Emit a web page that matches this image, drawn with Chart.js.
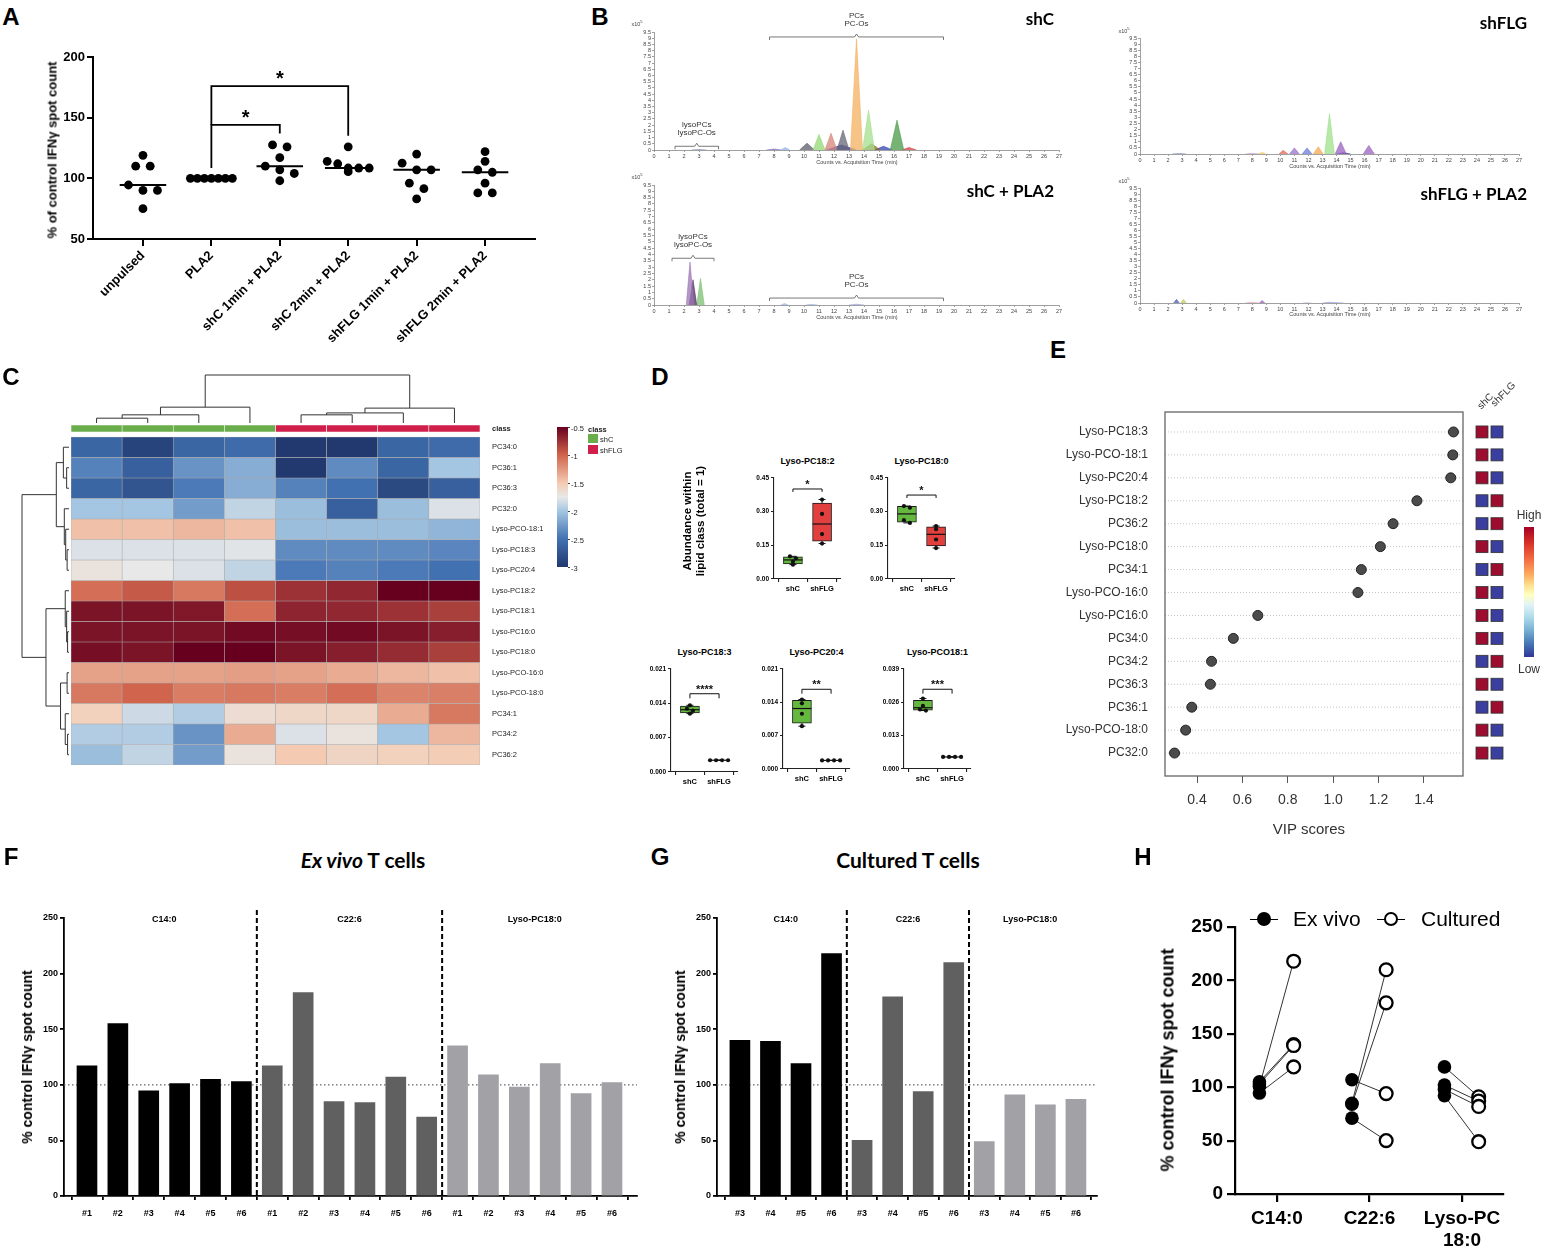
<!DOCTYPE html>
<html><head><meta charset="utf-8"><title>Figure</title>
<script src="https://cdn.jsdelivr.net/npm/chart.js@4.4.1/dist/chart.umd.min.js"></script>
<style>
html,body{margin:0;padding:0;background:#fff;}
#fig{position:relative;width:1547px;height:1252px;overflow:hidden;background:#fff;font-family:'Liberation Sans',Arial,sans-serif;color:#000;}
.t{position:absolute;white-space:nowrap;line-height:1;}
canvas{position:absolute;}
</style></head><body><div id="fig"></div>
<script>
// ======================= DATA =======================
// --- A: IFN-gamma spot count (% of control)
const A_groups = ['unpulsed', 'PLA2', 'shC 1min + PLA2', 'shC 2min + PLA2', 'shFLG 1min + PLA2', 'shFLG 2min + PLA2'];
const A_unpulsed = [119, 110, 110, 94.5, 90, 90, 75];
const A_PLA2 = [100, 100, 100, 100, 100, 100, 100];
const A_shC1 = [127.5, 126, 117, 110, 107, 104, 98];
const A_shC2 = [126, 114, 112, 108.5, 108.5, 108.5, 105.5];
const A_shFLG1 = [120, 112.5, 107, 107, 96, 91.5, 83];
const A_shFLG2 = [122, 114, 107, 105, 96, 88, 88];
const A_yTicks = [50, 100, 150, 200];
const A_sig = [
  {from: 1, to: 2, y: 144, yFrom: 108.5, yTo: 137, label: '*'},
  {from: 1, to: 3, y: 176, yFrom: 144, yTo: 135, label: '*'}
];

// --- B: chromatogram peaks [start, apex, end (min), height (x10^5 counts)]
const B_xTicks = [0,1,2,3,4,5,6,7,8,9,10,11,12,13,14,15,16,17,18,19,20,21,22,23,24,25,26,27];
const B_yTicks = [0,0.5,1,1.5,2,2.5,3,3.5,4,4.5,5,5.5,6,6.5,7,7.5,8,8.5,9,9.5];
const B_shC_peaks = [[13.1,13.5,13.9,8.95],[13.9,14.3,14.7,3.2],[15.75,16.2,16.65,2.4],[12.2,12.6,13.0,1.6],[11.4,11.8,12.2,1.35],[10.6,11.0,11.4,1.25],[9.7,10.2,10.7,0.55],[13.9,14.5,15.1,0.5],[11.5,12.5,13.5,0.4],[14.7,15.3,15.9,0.3],[16.5,17.0,17.5,0.2],[8.45,8.75,9.05,0.2],[7.5,8.0,8.5,0.08],[2.5,3.0,3.5,0.04]];
const B_shC_colors = ['#f4b060','#a4e08e','#4a9a46','#666675','#d68478','#92d874','#5c5c6c','#8a6a26','#2a38a8','#3442b4','#d04040','#90b4e4','#8070c0','#8090c0'];
const B_shFLG_peaks = [[13.15,13.5,13.85,3.3],[13.9,14.3,14.7,1.0],[15.9,16.3,16.7,0.7],[12.35,12.7,13.05,0.6],[11.55,11.9,12.25,0.5],[10.65,11.0,11.35,0.5],[9.9,10.2,10.55,0.3],[8.45,8.7,8.95,0.15],[14.0,14.5,15.0,0.1],[7.5,8.0,8.5,0.05],[2.3,2.8,3.3,0.04]];
const B_shFLG_colors = ['#9ee08a','#9a62c0','#9a62c0','#f4a850','#6a7ad8','#9a70c8','#e06a5a','#f0d060','#283090','#c0a0c0','#8090c0'];
const B_shCPLA2_peaks = [[2.15,2.4,2.65,3.4],[2.35,2.6,2.85,2.0],[2.85,3.1,3.35,2.1],[8.45,8.7,8.95,0.12],[10.1,10.5,10.9,0.05],[13.0,13.5,14.0,0.06]];
const B_shCPLA2_colors = ['#9c74b4','#4e2e60','#7cc070','#a0b8e8','#a0b8e8','#a0a0e0'];
const B_shFLGPLA2_peaks = [[2.4,2.6,2.8,0.3],[2.9,3.1,3.3,0.3],[7.5,8.0,8.5,0.05],[8.5,8.7,8.9,0.2],[11.6,11.9,12.2,0.03],[13.0,13.5,14.5,0.06]];
const B_shFLGPLA2_colors = ['#4a60b0','#c8c860','#e0a0b0','#9a62c0','#c0c0e0','#a0a0e0'];

// --- C: heatmap (log abundance) with clustering
const C_samples = ['shC-1','shC-2','shC-3','shC-4','shFLG-1','shFLG-2','shFLG-3','shFLG-4'];
const C_class = ['shC','shC','shC','shC','shFLG','shFLG','shFLG','shFLG'];
const C_lipids = ['PC34:0','PC36:1','PC36:3','PC32:0','Lyso-PCO-18:1','Lyso-PC18:3','Lyso-PC20:4','Lyso-PC18:2','Lyso-PC18:1','Lyso-PC16:0','Lyso-PC18:0','Lyso-PCO-16:0','Lyso-PCO-18:0','PC34:1','PC34:2','PC36:2'];
const C_values = [
  [-2.6,-2.9,-2.6,-2.55,-3.0,-3.0,-2.6,-2.55],
  [-2.4,-2.65,-2.3,-2.15,-3.0,-2.35,-2.6,-2.0],
  [-2.6,-2.75,-2.45,-2.15,-2.4,-2.5,-2.85,-2.65],
  [-2.0,-2.0,-2.25,-1.9,-2.05,-2.65,-2.05,-1.8],
  [-1.45,-1.45,-1.4,-1.45,-2.05,-2.05,-2.05,-2.1],
  [-1.8,-1.8,-1.8,-1.78,-2.35,-2.35,-2.35,-2.38],
  [-1.7,-1.75,-1.8,-1.9,-2.45,-2.4,-2.45,-2.5],
  [-1.05,-0.95,-1.1,-0.9,-0.75,-0.7,-0.5,-0.47],
  [-0.6,-0.6,-0.62,-1.05,-0.68,-0.7,-0.75,-0.82],
  [-0.6,-0.6,-0.6,-0.55,-0.57,-0.55,-0.6,-0.65],
  [-0.57,-0.6,-0.5,-0.47,-0.6,-0.65,-0.72,-0.82],
  [-1.3,-1.3,-1.3,-1.28,-1.3,-1.35,-1.4,-1.45],
  [-1.1,-1.0,-1.12,-1.1,-1.12,-1.05,-1.15,-1.13],
  [-1.55,-1.85,-1.95,-1.65,-1.6,-1.6,-1.35,-1.1],
  [-1.95,-1.95,-2.3,-1.35,-1.8,-1.7,-2.0,-1.4],
  [-2.05,-1.9,-2.25,-1.7,-1.5,-1.58,-1.55,-1.52]
];
const C_colTree = [[[[0,1,0.10],2,0.17],3,0.33],[[[4,5,0.17],6,0.21],7,0.31],1.0];
const C_rowTree = [[[0,[1,2,0.05],0.12],[3,[4,[5,6,0.04],0.07],0.10],0.27],[[7,[8,[9,10,0.03],0.05],0.08],[[11,12,0.04],[13,[14,15,0.03],0.08],0.18],0.49],1.0];
const C_legendTicks = [-0.5,-1,-1.5,-2,-2.5,-3];

// --- D: abundance within lipid class
const D_groups = ['shC','shFLG'];
const D_PC182_shC = [0.064,0.078,0.092,0.101];
const D_PC182_shFLG = [0.158,0.200,0.290,0.354];
const D_PC180_shC = [0.250,0.262,0.318,0.325];
const D_PC180_shFLG = [0.138,0.176,0.222,0.236];
const D_PC183_shC = [0.0119,0.0125,0.0129,0.0136];
const D_PC183_shFLG = [0.0024,0.0024,0.0024,0.0024];
const D_PC204_shC = [0.0090,0.0116,0.0138,0.0146];
const D_PC204_shFLG = [0.0018,0.0018,0.0018,0.0018];
const D_PCO181_shC = [0.0228,0.0232,0.0246,0.0275];
const D_PCO181_shFLG = [0.0047,0.0047,0.0047,0.0047];
const D_ticksA = [0,0.15,0.30,0.45];
const D_ticksB = [0,0.007,0.014,0.021];
const D_ticksC = [0,0.013,0.026,0.039];

// --- E: VIP scores
const E_lipids = ['Lyso-PC18:3','Lyso-PCO-18:1','Lyso-PC20:4','Lyso-PC18:2','PC36:2','Lyso-PC18:0','PC34:1','Lyso-PCO-16:0','Lyso-PC16:0','PC34:0','PC34:2','PC36:3','PC36:1','Lyso-PCO-18:0','PC32:0'];
const E_vip = [1.530,1.527,1.518,1.369,1.264,1.208,1.124,1.109,0.668,0.560,0.464,0.459,0.377,0.350,0.301];
const E_higherIn = ['shC','shC','shC','shFLG','shFLG','shC','shFLG','shC','shC','shC','shFLG','shC','shFLG','shC','shC'];
const E_groups = ['shC','shFLG'];
const E_xTicks = [0.4,0.6,0.8,1.0,1.2,1.4];

// --- F / G: % control IFN-gamma spot count per donor
const FG_groups = ['C14:0','C22:6','Lyso-PC18:0'];
const FG_yTicks = [0,50,100,150,200,250];
const F_donors = ['#1','#2','#3','#4','#5','#6'];
const F_C14 = [117,155,94.5,101,105,103];
const F_C22 = [117,183,85,84,107,71];
const F_Lyso = [135,109,98,119,92,102];
const G_donors = ['#3','#4','#5','#6'];
const G_C14 = [140,139,119,218];
const G_C22 = [50,179,94,210];
const G_Lyso = [49,91,82,87];

// --- H: paired ex vivo vs cultured
const H_cats = ['C14:0','C22:6','Lyso-PC 18:0'];
const H_exVivo = [[101,105,103,94.5],[107,85,84,71],[119,102,98,92]];
const H_cultured = [[218,140,139,119],[94,210,179,50],[91,87,82,49]];
const H_yTicks = [0,50,100,150,200,250];

// ======================= HELPERS =======================
const FONT = "'Liberation Sans', Arial, Helvetica, sans-serif";
const CAL = "Lato, 'Open Sans', sans-serif";
Chart.defaults.font.family = FONT;
Chart.defaults.color = '#000';
const fig = document.getElementById('fig');

function T(html, x, y, css, anchor, rot) {
  const d = document.createElement('div');
  d.className = 't';
  d.innerHTML = html;
  const ax = anchor === 'l' ? '0%' : anchor === 'r' ? '-100%' : '-50%';
  d.style.cssText = 'left:' + x + 'px;top:' + y + 'px;' + (css || '') + ';transform:translate(' + ax + ',-50%)' + (rot ? ' rotate(' + rot + 'deg)' : '') + ';';
  fig.appendChild(d);
  return d;
}
function R(x, y, w, h, css) {
  const d = document.createElement('div');
  d.style.cssText = 'position:absolute;left:' + x + 'px;top:' + y + 'px;width:' + w + 'px;height:' + h + 'px;' + (css || '');
  fig.appendChild(d);
  return d;
}
function fixedTicks(vals) { return s => { s.ticks = vals.map(v => ({value: v})); }; }
function drawText(ctx, s, x, y, font, color, align, base) {
  ctx.save(); ctx.font = font; ctx.fillStyle = color || '#000';
  ctx.textAlign = align || 'center'; ctx.textBaseline = base || 'middle';
  ctx.fillText(s, x, y); ctx.restore();
}
function drawLine(ctx, pts, w, color, dash) {
  ctx.save(); ctx.beginPath(); ctx.lineWidth = w; ctx.strokeStyle = color || '#000';
  if (dash) ctx.setLineDash(dash);
  pts.forEach((p, i) => i ? ctx.lineTo(p[0], p[1]) : ctx.moveTo(p[0], p[1]));
  ctx.stroke(); ctx.restore();
}
function rgba(hex, a) {
  const n = parseInt(hex.slice(1), 16);
  return 'rgba(' + (n >> 16 & 255) + ',' + (n >> 8 & 255) + ',' + (n & 255) + ',' + a + ')';
}
function swarm(vals, pxPerUnit, tolPx, stepPx, maxHalfPx) {
  const s = vals.slice().sort((a, b) => b - a);
  const rows = [];
  s.forEach(v => {
    const r = rows[rows.length - 1];
    if (r && (r[0] - v) * pxPerUnit <= tolPx) r.push(v); else rows.push([v]);
  });
  const out = [];
  rows.forEach(r => {
    const n = r.length;
    const st = n > 1 ? Math.min(stepPx, 2 * maxHalfPx / (n - 1)) : 0;
    r.forEach((v, i) => out.push({v: v, off: (i - (n - 1) / 2) * st}));
  });
  return out;
}
function median(a) { const s = a.slice().sort((x, y) => x - y), n = s.length; return n % 2 ? s[(n - 1) / 2] : (s[n / 2 - 1] + s[n / 2]) / 2; }
function pct(a, p) {
  const s = a.slice().sort((x, y) => x - y), n = s.length, pos = (n + 1) * p;
  if (pos <= 1) return s[0]; if (pos >= n) return s[n - 1];
  const lo = Math.floor(pos); return s[lo - 1] + (pos - lo) * (s[lo] - s[lo - 1]);
}

function makeChart(box, area, cfg, yRight) {
  const cv = document.createElement('canvas');
  cv.width = box.w; cv.height = box.h;
  cv.style.cssText = 'left:' + box.x + 'px;top:' + box.y + 'px;width:' + box.w + 'px;height:' + box.h + 'px;';
  fig.appendChild(cv);
  const o = cfg.options;
  o.responsive = false; o.maintainAspectRatio = false; o.animation = false; o.devicePixelRatio = 1; o.events = [];
  o.plugins = Object.assign({legend: {display: false}, tooltip: {enabled: false}, title: {display: false}}, o.plugins || {});
  const L = area.l - box.x, Tp = area.t - box.y, Rp = box.x + box.w - area.r, B = box.y + box.h - area.b;
  const zero = s => { s.paddingLeft = 0; s.paddingRight = 0; s.paddingTop = 0; s.paddingBottom = 0; };
  const xs = o.scales.x, ys = o.scales.y;
  xs.afterFit = s => { s.height = B; zero(s); };
  if (yRight) {
    o.layout = {padding: {left: L, top: Tp, right: 0, bottom: 0}};
    ys.position = 'right';
    ys.afterFit = s => { s.width = Rp; zero(s); };
  } else {
    o.layout = {padding: {left: 0, top: Tp, right: Rp, bottom: 0}};
    ys.afterFit = s => { s.width = L; zero(s); };
  }
  return new Chart(cv.getContext('2d'), cfg);
}
function axisStyle(w, tl, col) {
  return {grid: {drawOnChartArea: false, drawTicks: true, tickLength: tl, color: col || '#000', lineWidth: w},
          border: {display: true, color: col || '#000', width: w}};
}

// ======================= PANEL A =======================
(function () {
  const box = {x: 0, y: 40, w: 560, h: 320}, area = {l: 93, t: 57, r: 535, b: 239};
  const xmin = -0.73, xmax = 5.73, ymin = 50, ymax = 200;
  const pxX = (area.r - area.l) / (xmax - xmin), pxY = (area.b - area.t) / (ymax - ymin);
  const groups = [A_unpulsed, A_PLA2, A_shC1, A_shC2, A_shFLG1, A_shFLG2];
  const pts = [], ds = [];
  groups.forEach((g, i) => {
    swarm(g, pxY, 8, 14.5, 21).forEach(p => pts.push({x: i + p.off / pxX, y: p.v}));
    const m = median(g);
    ds.push({data: [{x: i - 0.34, y: m}, {x: i + 0.34, y: m}], showLine: true, borderColor: '#000', borderWidth: 2, pointRadius: 0});
  });
  A_sig.forEach(s => ds.push({data: [{x: s.from, y: s.yFrom}, {x: s.from, y: s.y}, {x: s.to, y: s.y}, {x: s.to, y: s.yTo}],
    showLine: true, borderColor: '#000', borderWidth: 1.8, pointRadius: 0}));
  ds.unshift({data: pts, pointRadius: 4.4, backgroundColor: '#000', borderWidth: 0});
  const ax = axisStyle(2, 6);
  makeChart(box, area, {
    type: 'scatter', data: {datasets: ds},
    options: {scales: {
      x: Object.assign({type: 'linear', min: xmin, max: xmax, afterBuildTicks: fixedTicks(A_groups.map((_, i) => i)),
        ticks: {callback: v => A_groups[v], minRotation: 45, maxRotation: 45, autoSkip: false, padding: 2, font: {size: 13, weight: 'bold'}}}, axisStyle(2, 7)),
      y: Object.assign({type: 'linear', min: ymin, max: ymax, afterBuildTicks: fixedTicks(A_yTicks),
        ticks: {callback: v => String(v), autoSkip: false, padding: 2, font: {size: 13, weight: 'bold'}}}, ax)
    }},
    plugins: [{id: 'astar', afterDatasetsDraw(c) {
      A_sig.forEach(s => {
        const x = (c.scales.x.getPixelForValue(s.from) + c.scales.x.getPixelForValue(s.to)) / 2;
        drawText(c.ctx, s.label, x, c.scales.y.getPixelForValue(s.y) - 1, 'bold 20px ' + FONT, '#000', 'center', 'alphabetic');
      });
    }}]
  });
  T('A', 11, 17, 'font:bold 24px ' + FONT);
  T('% of control IFNγ spot count', 52, 150, 'font:bold 13px ' + FONT, 'c', -90);
})();

// ======================= PANEL B =======================
function drawBracket(ctx, xs, ys, b) {
  const x1 = xs.getPixelForValue(b.x1), x2 = xs.getPixelForValue(b.x2), xm = (x1 + x2) / 2, y = ys.getPixelForValue(b.y);
  drawLine(ctx, [[x1, y + 3], [x1, y], [xm - 2, y], [xm, y - 3], [xm + 2, y], [x2, y], [x2, y + 3]], 0.8, '#555');
  b.labels.forEach((s, i) => drawText(ctx, s, xm, y - 21 + i * 8, '8px ' + FONT, '#333'));
}
function chrom(box, area, peaks, colors, brackets) {
  const ds = peaks.map((p, i) => ({data: [{x: p[0], y: 0}, {x: p[1], y: p[3]}, {x: p[2], y: 0}], showLine: true, fill: 'origin',
    backgroundColor: rgba(colors[i], 0.75), borderColor: rgba(colors[i], 0.95), borderWidth: 0.6, pointRadius: 0, tension: 0}));
  makeChart(box, area, {
    type: 'scatter', data: {datasets: ds},
    options: {scales: {
      x: Object.assign({type: 'linear', min: 0, max: 27, afterBuildTicks: fixedTicks(B_xTicks),
        ticks: {callback: v => String(v), autoSkip: false, maxRotation: 0, padding: 1, color: '#444', font: {size: 5.5}}}, axisStyle(0.7, 2, '#777')),
      y: Object.assign({type: 'linear', min: 0, max: 9.5, afterBuildTicks: fixedTicks(B_yTicks),
        ticks: {callback: v => String(v), autoSkip: false, padding: 1, color: '#444', font: {size: 5.5}}}, axisStyle(0.7, 2, '#777'))
    }},
    plugins: [{id: 'brk', afterDatasetsDraw(c) { brackets.forEach(b => drawBracket(c.ctx, c.scales.x, c.scales.y, b)); }}]
  });
}
chrom({x: 610, y: 10, w: 460, h: 160}, {l: 654, t: 32, r: 1059, b: 150}, B_shC_peaks, B_shC_colors,
  [{x1: 7.7, x2: 19.3, y: 9.1, labels: ['PCs', 'PC-Os']}, {x1: 1.4, x2: 4.3, y: 0.3, labels: ['lysoPCs', 'lysoPC-Os']}]);
chrom({x: 610, y: 165, w: 460, h: 160}, {l: 654, t: 185, r: 1059, b: 305}, B_shCPLA2_peaks, B_shCPLA2_colors,
  [{x1: 1.2, x2: 4.0, y: 3.7, labels: ['lysoPCs', 'lysoPC-Os']}, {x1: 7.7, x2: 19.3, y: 0.55, labels: ['PCs', 'PC-Os']}]);
chrom({x: 1095, y: 15, w: 440, h: 160}, {l: 1140, t: 38, r: 1519, b: 154}, B_shFLG_peaks, B_shFLG_colors, []);
chrom({x: 1095, y: 165, w: 440, h: 160}, {l: 1140, t: 188, r: 1519, b: 303}, B_shFLGPLA2_peaks, B_shFLGPLA2_colors, []);
T('B', 600, 17, 'font:bold 24px ' + FONT);
[[637, 23], [637, 176], [1124, 30], [1124, 180]].forEach(p => T('x10<sup style="font-size:4px">5</sup>', p[0], p[1], 'font:5.5px ' + FONT + ';color:#444'));
[[857, 162], [857, 317], [1330, 166], [1330, 314]].forEach(p => T('Counts vs. Acquisition Time (min)', p[0], p[1], 'font:5.5px ' + FONT + ';color:#444'));
T('shC', 1054, 18, 'font:bold 17px ' + CAL, 'r');
T('shC + PLA2', 1054, 190, 'font:bold 17px ' + CAL, 'r');
T('shFLG', 1527, 22, 'font:bold 17px ' + CAL, 'r');
T('shFLG + PLA2', 1527, 193, 'font:bold 17px ' + CAL, 'r');

// ======================= PANEL C =======================
const C_stops = [[-3, [33, 57, 110]], [-2.5, [66, 113, 178]], [-2, [165, 198, 226]], [-1.75, [232, 232, 232]], [-1.5, [244, 203, 178]], [-1, [208, 100, 76]], [-0.5, [103, 0, 31]]];
function cmap(v) {
  if (v <= C_stops[0][0]) return 'rgb(' + C_stops[0][1].join(',') + ')';
  for (let i = 1; i < C_stops.length; i++) {
    if (v <= C_stops[i][0]) {
      const a = C_stops[i - 1], b = C_stops[i], t = (v - a[0]) / (b[0] - a[0]);
      return 'rgb(' + a[1].map((c, k) => Math.round(c + t * (b[1][k] - c))).join(',') + ')';
    }
  }
  return 'rgb(' + C_stops[C_stops.length - 1][1].join(',') + ')';
}
function drawTree(ctx, node, leafPos, hPx, orient) {
  if (typeof node === 'number') return {pos: leafPos(node), h: 0};
  const a = drawTree(ctx, node[0], leafPos, hPx, orient), b = drawTree(ctx, node[1], leafPos, hPx, orient);
  const hp = hPx(node[2]);
  if (orient === 'top') drawLine(ctx, [[a.pos, hPx(a.h)], [a.pos, hp], [b.pos, hp], [b.pos, hPx(b.h)]], 1, '#333');
  else drawLine(ctx, [[hPx(a.h), a.pos], [hp, a.pos], [hp, b.pos], [hPx(b.h), b.pos]], 1, '#333');
  return {pos: (a.pos + b.pos) / 2, h: node[2]};
}
(function () {
  const box = {x: 0, y: 360, w: 560, h: 420}, area = {l: 71, t: 425, r: 480, b: 765};
  const ds = C_values.map((row, r) => ({data: row.map(() => [r, r + 1]), backgroundColor: row.map(cmap),
    borderColor: '#a9a9a9', borderWidth: 0.6, borderSkipped: false, grouped: false, barPercentage: 1, categoryPercentage: 1}));
  ds.push({data: C_class.map(() => [-0.585, -0.244]), backgroundColor: C_class.map(c => c === 'shC' ? '#6aae4c' : '#cf1f4a'),
    borderColor: '#ffffff', borderWidth: 0.6, borderSkipped: false, grouped: false, barPercentage: 1, categoryPercentage: 1});
  const yt = [-0.415].concat(C_lipids.map((_, i) => i + 0.5));
  makeChart(box, area, {
    type: 'bar', data: {labels: C_samples, datasets: ds},
    options: {scales: {
      x: {type: 'category', ticks: {display: false}, grid: {display: false}, border: {display: false}},
      y: {type: 'linear', min: -0.585, max: 16, reverse: true, afterBuildTicks: fixedTicks(yt),
        ticks: {callback: v => v < 0 ? 'class' : C_lipids[Math.floor(v)], autoSkip: false, padding: 4, color: '#222',
          font: ctx => ({size: 7.5, weight: (ctx.tick && ctx.tick.value < 0) ? 'bold' : 'normal'})},
        grid: {display: false}, border: {display: false}}
    }},
    plugins: [{id: 'dendro', afterDraw(c) {
      const xs = c.scales.x, ys = c.scales.y;
      drawTree(c.ctx, C_colTree, i => xs.getPixelForValue(i), h => (423 - box.y) - h * 48, 'top');
      drawTree(c.ctx, C_rowTree, r => ys.getPixelForValue(r + 0.5), h => 69 - h * 47, 'left');
    }}]
  }, true);
  T('C', 11, 377, 'font:bold 24px ' + FONT);
  const grad = C_stops.slice().reverse().map(s => 'rgb(' + s[1].join(',') + ') ' + ((-0.5 - s[0]) / 2.5 * 100) + '%').join(',');
  R(557, 427, 11, 140, 'background:linear-gradient(to bottom,' + grad + ')');
  C_legendTicks.forEach(v => {
    const y = 427 + (-0.5 - v) / 2.5 * 140;
    R(568, y, 2, 0.8, 'background:#444');
    T(String(v), 571, y + 1, 'font:7.5px ' + FONT + ';color:#222', 'l');
  });
  T('class', 588, 429, 'font:bold 7.5px ' + FONT + ';color:#222', 'l');
  R(588, 434, 10, 9, 'background:#6aae4c');
  T('shC', 600, 439, 'font:7.5px ' + FONT + ';color:#222', 'l');
  R(588, 445, 10, 9, 'background:#cf1f4a');
  T('shFLG', 600, 450, 'font:7.5px ' + FONT + ';color:#222', 'l');
})();

// ======================= PANEL D =======================
function boxPanel(box, area, title, shC, shFLG, yTicks, dec, sig) {
  const xmin = -0.65, xmax = 1.65;
  const ymax = yTicks[yTicks.length - 1];
  const pxX = (area.r - area.l) / (xmax - xmin), pxY = (area.b - area.t) / ymax;
  const groups = [shC, shFLG];
  const stats = groups.map(g => ({min: Math.min.apply(null, g), max: Math.max.apply(null, g), q1: pct(g, 0.25), q3: pct(g, 0.75), med: median(g)}));
  const pts = [];
  groups.forEach((g, i) => swarm(g, pxY, 3, 6, 10).forEach(p => pts.push({x: i + p.off / pxX, y: p.v})));
  makeChart(box, area, {
    type: 'bar',
    data: {datasets: [
      {type: 'scatter', data: pts, pointRadius: 2.1, backgroundColor: '#111', borderWidth: 0},
      {type: 'bar', data: stats.map((s, i) => ({x: i, y: [s.q1, s.q3]})), backgroundColor: ['#64b83e', '#e2403f'],
        borderColor: '#1a1a1a', borderWidth: 1, borderSkipped: false, barThickness: 19}
    ]},
    options: {scales: {
      x: Object.assign({type: 'linear', offset: false, min: xmin, max: xmax, afterBuildTicks: fixedTicks([0, 1]),
        ticks: {callback: v => D_groups[v], autoSkip: false, maxRotation: 0, padding: 2, font: {size: 7.5, weight: 'bold'}}}, axisStyle(1.1, 3, '#222')),
      y: Object.assign({type: 'linear', min: 0, max: ymax, afterBuildTicks: fixedTicks(yTicks),
        ticks: {callback: v => v.toFixed(dec), autoSkip: false, padding: 2, font: {size: 6.5, weight: 'bold'}}}, axisStyle(1.1, 3, '#222'))
    }},
    plugins: [{id: 'whisk', afterDatasetsDraw(c) {
      const xs = c.scales.x, ys = c.scales.y, ctx = c.ctx;
      stats.forEach((s, i) => {
        const x = xs.getPixelForValue(i);
        const yq1 = ys.getPixelForValue(s.q1), yq3 = ys.getPixelForValue(s.q3), ymn = ys.getPixelForValue(s.min), ymx = ys.getPixelForValue(s.max);
        drawLine(ctx, [[x, yq3], [x, ymx]], 1, '#111');
        drawLine(ctx, [[x, yq1], [x, ymn]], 1, '#111');
        drawLine(ctx, [[x - 3.5, ymx], [x + 3.5, ymx]], 1, '#111');
        drawLine(ctx, [[x - 3.5, ymn], [x + 3.5, ymn]], 1, '#111');
        const ym = ys.getPixelForValue(s.med);
        drawLine(ctx, [[x - 9.5, ym], [x + 9.5, ym]], 1.2, '#111');
      });
      const x0 = xs.getPixelForValue(0), x1 = xs.getPixelForValue(1), y = ys.getPixelForValue(sig.y), yd = ys.getPixelForValue(sig.drop);
      drawLine(ctx, [[x0, yd], [x0, y], [x1, y], [x1, yd]], 1, '#111');
      drawText(ctx, sig.label, (x0 + x1) / 2, y - 1, 'bold 11px ' + FONT, '#111', 'center', 'alphabetic');
    }}]
  });
  T(title, (area.l + area.r) / 2, area.t - 17, 'font:bold 9px ' + FONT);
}
boxPanel({x: 740, y: 470, w: 110, h: 130}, {l: 774, t: 478, r: 841, b: 579}, 'Lyso-PC18:2', D_PC182_shC, D_PC182_shFLG, D_ticksA, 2, {y: 0.401, drop: 0.388, label: '*'});
boxPanel({x: 855, y: 470, w: 110, h: 130}, {l: 888, t: 478, r: 955, b: 579}, 'Lyso-PC18:0', D_PC180_shC, D_PC180_shFLG, D_ticksA, 2, {y: 0.374, drop: 0.361, label: '*'});
boxPanel({x: 635, y: 660, w: 110, h: 130}, {l: 671, t: 669, r: 738, b: 772}, 'Lyso-PC18:3', D_PC183_shC, D_PC183_shFLG, D_ticksB, 3, {y: 0.01596, drop: 0.01502, label: '****'});
boxPanel({x: 748, y: 660, w: 110, h: 130}, {l: 783, t: 669, r: 850, b: 769}, 'Lyso-PC20:4', D_PC204_shC, D_PC204_shFLG, D_ticksB, 3, {y: 0.01674, drop: 0.01581, label: '**'});
boxPanel({x: 865, y: 660, w: 115, h: 130}, {l: 904, t: 669, r: 971, b: 769}, 'Lyso-PCO18:1', D_PCO181_shC, D_PCO181_shFLG, D_ticksC, 3, {y: 0.0311, drop: 0.0294, label: '***'});
T('D', 660, 377, 'font:bold 24px ' + FONT);
T('Abundance within', 687, 521, 'font:bold 11.5px ' + FONT, 'c', -90);
T('lipid class (total = 1)', 700, 521, 'font:bold 11.5px ' + FONT, 'c', -90);

// ======================= PANEL E =======================
(function () {
  const box = {x: 1040, y: 400, w: 470, h: 420}, area = {l: 1165, t: 412, r: 1463, b: 776};
  const pts = E_vip.map((v, i) => ({x: v, y: i}));
  makeChart(box, area, {
    type: 'scatter', data: {datasets: [{data: pts, pointRadius: 5, backgroundColor: '#4b4b4b', borderColor: '#222', borderWidth: 1}]},
    options: {scales: {
      x: {type: 'linear', min: 0.259, max: 1.572, afterBuildTicks: fixedTicks(E_xTicks),
        ticks: {callback: v => v.toFixed(1), autoSkip: false, maxRotation: 0, padding: 9, color: '#333', font: {size: 14}},
        grid: {drawOnChartArea: false, drawTicks: true, tickLength: 7, color: '#555', lineWidth: 1}, border: {display: false}},
      y: {type: 'linear', min: -0.87, max: 15, reverse: true, afterBuildTicks: fixedTicks(E_lipids.map((_, i) => i)),
        ticks: {callback: v => E_lipids[v], autoSkip: false, padding: 17, color: '#333', font: {size: 12}},
        grid: {display: false, drawTicks: false}, border: {display: false}}
    }},
    plugins: [{id: 'evip',
      beforeDatasetsDraw(c) {
        const a = c.chartArea, ys = c.scales.y;
        E_lipids.forEach((_, i) => { const y = ys.getPixelForValue(i); drawLine(c.ctx, [[a.left, y], [a.right, y]], 1, '#c4c4c4', [1, 2]); });
      },
      afterDraw(c) {
        const a = c.chartArea, ys = c.scales.y, ctx = c.ctx;
        ctx.save(); ctx.strokeStyle = '#666'; ctx.lineWidth = 1.3; ctx.strokeRect(a.left, a.top, a.right - a.left, a.bottom - a.top); ctx.restore();
        const cx = [1482 - box.x, 1497 - box.x];
        E_lipids.forEach((_, i) => {
          const y = ys.getPixelForValue(i);
          E_groups.forEach((g, k) => {
            ctx.save();
            ctx.fillStyle = E_higherIn[i] === g ? '#9d0d30' : '#3a3f9f';
            ctx.fillRect(cx[k] - 6, y - 6, 12, 12);
            ctx.strokeStyle = '#333'; ctx.lineWidth = 0.8; ctx.strokeRect(cx[k] - 6, y - 6, 12, 12);
            ctx.restore();
          });
        });
      }}]
  });
  T('E', 1058, 350, 'font:bold 24px ' + FONT);
  T('shC', 1485, 401, 'font:10px ' + FONT + ';color:#333', 'c', -45);
  T('shFLG', 1503, 394, 'font:10px ' + FONT + ';color:#333', 'c', -45);
  T('VIP scores', 1309, 828, 'font:15px ' + FONT + ';color:#333');
  R(1524, 527, 10, 130, 'background:linear-gradient(to bottom,#a50026 0%,#d73027 12%,#f46d43 25%,#fdae61 37%,#fee090 45%,#ffffbf 52%,#e0f3f8 60%,#abd9e9 70%,#74add1 80%,#4575b4 90%,#313695 100%)');
  T('High', 1529, 515, 'font:12px ' + FONT + ';color:#333');
  T('Low', 1529, 669, 'font:12px ' + FONT + ';color:#333');
})();

// ======================= PANELS F & G =======================
const FG_colors = ['#000000', '#606060', '#a1a1a6'];
function tBars(box, area, donors, vals, xmin, xmax) {
  const labels = [], data = [], colors = [];
  vals.forEach((g, gi) => g.forEach((v, j) => { data.push({x: labels.length, y: v}); labels.push(donors[j]); colors.push(FG_colors[gi]); }));
  const n = donors.length;
  makeChart(box, area, {
    type: 'bar', data: {datasets: [{data: data, backgroundColor: colors, borderWidth: 0, barThickness: 20}]},
    options: {scales: {
      x: Object.assign({type: 'linear', offset: false, min: xmin, max: xmax, afterBuildTicks: fixedTicks(labels.map((_, i) => i)),
        ticks: {callback: v => labels[v], autoSkip: false, maxRotation: 0, padding: 8, font: {size: 9, weight: 'bold'}}}, axisStyle(1.8, 4)),
      y: Object.assign({type: 'linear', min: 0, max: 250, afterBuildTicks: fixedTicks(FG_yTicks),
        ticks: {callback: v => String(v), autoSkip: false, padding: 2, font: {size: 9, weight: 'bold'}}}, axisStyle(1.8, 4))
    }},
    plugins: [{id: 'fg',
      beforeDatasetsDraw(c) {
        const a = c.chartArea, y = c.scales.y.getPixelForValue(100);
        drawLine(c.ctx, [[a.left, y], [a.right, y]], 1.2, '#666', [1.5, 2.5]);
      },
      afterDatasetsDraw(c) {
        const xs = c.scales.x, ys = c.scales.y, a = c.chartArea;
        for (let k = 1; k < vals.length; k++) {
          const x = xs.getPixelForValue(k * n - 0.5);
          drawLine(c.ctx, [[x, a.top - 8], [x, a.bottom]], 2, '#000', [5, 3]);
        }
        FG_groups.forEach((g, k) => drawText(c.ctx, g, xs.getPixelForValue(k * n + (n - 1) / 2), ys.getPixelForValue(250) + 2, 'bold 9px ' + FONT, '#000'));
      }}]
  });
}
tBars({x: 0, y: 880, w: 650, h: 372}, {l: 64, t: 918, r: 637, b: 1196}, F_donors, [F_C14, F_C22, F_Lyso], -0.744, 17.81);
tBars({x: 660, y: 880, w: 450, h: 372}, {l: 717, t: 918, r: 1097, b: 1196}, G_donors, [G_C14, G_C22, G_Lyso], -0.75, 11.69);
T('F', 11, 857, 'font:bold 24px ' + FONT);
T('G', 660, 857, 'font:bold 24px ' + FONT);
T('<i>Ex vivo</i> T cells', 363, 859, 'font:bold 21px ' + CAL);
T('Cultured T cells', 908, 859, 'font:bold 21px ' + CAL);
T('% control IFNγ spot count', 27, 1057, 'font:bold 14px ' + FONT, 'c', -90);
T('% control IFNγ spot count', 680, 1057, 'font:bold 14px ' + FONT, 'c', -90);

// ======================= PANEL H =======================
(function () {
  const box = {x: 1150, y: 890, w: 397, h: 362}, area = {l: 1235, t: 927, r: 1503, b: 1194};
  const off = [-0.19, 0.18];
  const ex = [], cu = [], ds = [];
  H_exVivo.forEach((g, i) => g.forEach((v, j) => {
    const w = H_cultured[i][j];
    ex.push({x: i + off[0], y: v}); cu.push({x: i + off[1], y: w});
    ds.push({data: [{x: i + off[0], y: v}, {x: i + off[1], y: w}], showLine: true, borderColor: '#333', borderWidth: 1, pointRadius: 0});
  }));
  ds.unshift({data: cu, pointRadius: 6.4, backgroundColor: '#fff', borderColor: '#000', borderWidth: 2.3},
             {data: ex, pointRadius: 6.8, backgroundColor: '#000', borderColor: '#000', borderWidth: 0});
  makeChart(box, area, {
    type: 'scatter', data: {datasets: ds},
    options: {scales: {
      x: Object.assign({type: 'linear', min: -0.454, max: 2.443, afterBuildTicks: fixedTicks([0, 1, 2]),
        ticks: {callback: v => H_cats[v].split(' '), autoSkip: false, maxRotation: 0, padding: 5, font: {size: 19, weight: 'bold'}}}, axisStyle(2.2, 8)),
      y: Object.assign({type: 'linear', min: 0, max: 250, afterBuildTicks: fixedTicks(H_yTicks),
        ticks: {callback: v => String(v), autoSkip: false, padding: 4, font: {size: 19, weight: 'bold'}}}, axisStyle(2.2, 8))
    }}
  });
  T('H', 1143, 857, 'font:bold 24px ' + FONT);
  T('% control IFNγ spot count', 1168, 1060, 'font:bold 18px ' + FONT, 'c', -90);
  R(1250, 918.5, 28, 1.2, 'background:#000');
  R(1257, 912, 14, 14, 'background:#000;border-radius:50%');
  T('Ex vivo', 1293, 919, 'font:21px ' + FONT, 'l');
  R(1377, 918.5, 28, 1.2, 'background:#000');
  R(1384, 912, 10, 10, 'background:#fff;border:2.3px solid #000;border-radius:50%');
  T('Cultured', 1421, 919, 'font:21px ' + FONT, 'l');
})();
</script></body></html>
